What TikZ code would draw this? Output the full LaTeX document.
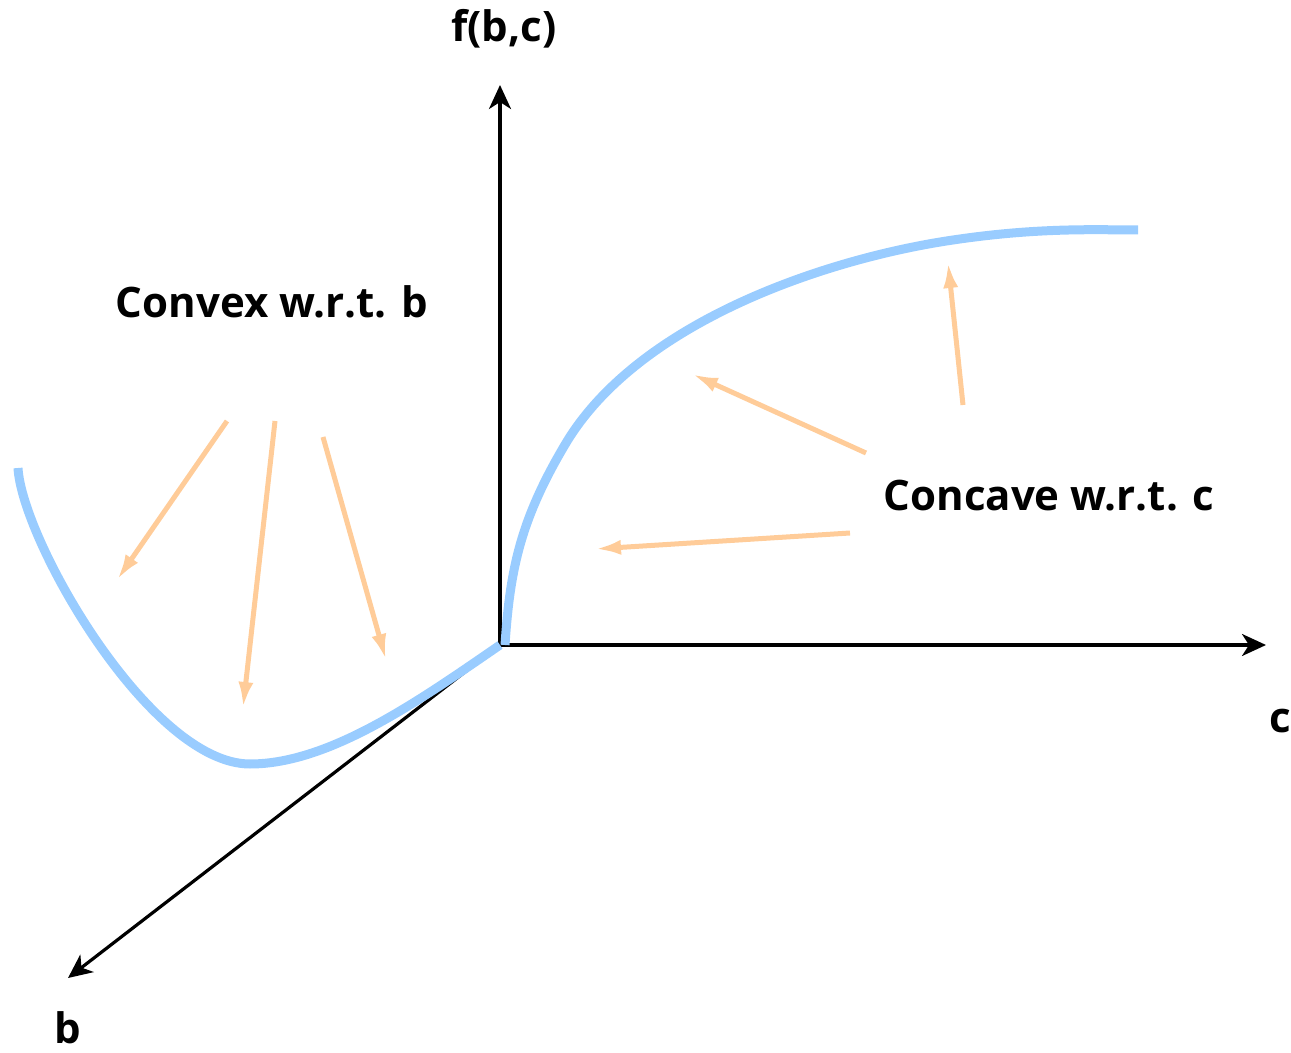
\documentclass[tikz,border=0pt]{standalone}
\usepackage{fontspec}
\setmainfont{Open Sans}
\usetikzlibrary{arrows.meta}
\definecolor{curveblue}{HTML}{99CCFF}
\definecolor{hintorange}{HTML}{FFCC99}
\begin{document}
\begin{tikzpicture}[x=0.5pt,y=-0.5pt,
  axis/.style={line width=1.6pt,-{Stealth[length=12pt,width=11pt,inset=3.5pt]}},
  curve/.style={line width=4.5pt,curveblue},
  hint/.style={line width=2.5pt,hintorange,-{Latex[length=13pt,width=7.5pt]}},
  lbl/.style={font=\fontsize{21}{25}\selectfont\bfseries,inner sep=0pt,anchor=base}]
\useasboundingbox (0,0) rectangle (1291,1053);
\coordinate (O) at (500,645);
\coordinate (ftip) at (500,85);
\coordinate (ctip) at (1266,645);
\coordinate (btip) at (68,978);
\draw[axis] (O) -- (ftip);
\draw[axis] (O) -- (ctip);
\draw[axis] (O) -- (btip);
\node[lbl] (flbl) at (504,42) {f(b,c)};
\node[lbl] (clbl) at (1280,732) {c};
\node[lbl] (blbl) at (68,1043) {b};
% curves
\draw[curve] (18,468) .. controls (22,540) and (150,764) .. (250,764)
  .. controls (330,764) and (420,700) .. (500,645);
\draw[curve] (505,645) .. controls (510,570) and (520,520) .. (566,443)
  .. controls (640,320) and (830,258) .. (953,240)
  .. controls (1040,227) and (1100,230) .. (1138,230);
% labels
\node[lbl] (convex) at (272,318) {Convex w.r.t. b};
\node[lbl] (concave) at (1049,510) {Concave w.r.t. c};
% hint arrows
\coordinate (a1s) at (227,421); \coordinate (a1e) at (117,580);
\coordinate (a2s) at (275,421); \coordinate (a2e) at (243,708);
\coordinate (a3s) at (323,437); \coordinate (a3e) at (386,660);
\coordinate (a4s) at (866,453); \coordinate (a4e) at (692,374);
\coordinate (a5s) at (850,533); \coordinate (a5e) at (595,549);
\coordinate (a6s) at (963,405); \coordinate (a6e) at (948,262);
\foreach \i in {1,...,6} \draw[hint] (a\i s) -- (a\i e);
\end{tikzpicture}
\end{document}
